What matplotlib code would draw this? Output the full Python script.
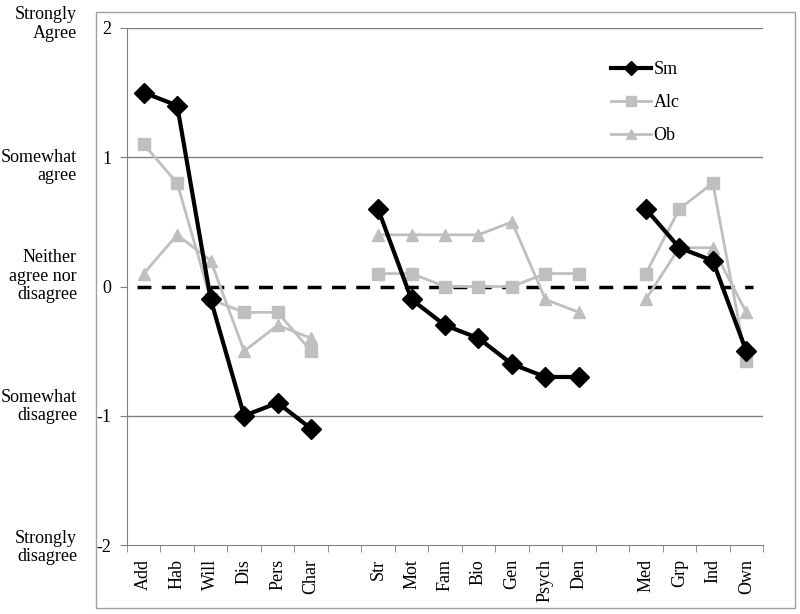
import matplotlib
matplotlib.use("Agg")
import matplotlib.pyplot as plt
from matplotlib.patches import Rectangle
import matplotlib.transforms as mtransforms
import numpy as np

plt.rcParams['font.family'] = ['Liberation Serif', 'DejaVu Serif']

categories = ["Add", "Hab", "Will", "Dis", "Pers", "Char", "",
              "Str", "Mot", "Fam", "Bio", "Gen", "Psych", "Den", "",
              "Med", "Grp", "Ind", "Own"]
nan = np.nan
sm = [1.5, 1.4, -0.1, -1.0, -0.9, -1.1, nan,
      0.6, -0.1, -0.3, -0.4, -0.6, -0.7, -0.7, nan,
      0.6, 0.3, 0.2, -0.5]
alc = [1.1, 0.8, -0.1, -0.2, -0.2, -0.5, nan,
       0.1, 0.1, 0.0, 0.0, 0.0, 0.1, 0.1, nan,
       0.1, 0.6, 0.8, -0.58]
ob = [0.1, 0.4, 0.2, -0.5, -0.3, -0.4, nan,
      0.4, 0.4, 0.4, 0.4, 0.5, -0.1, -0.2, nan,
      -0.1, 0.3, 0.3, -0.2]
yticks = [-2, -1, 0, 1, 2]
ylabels_text = ["Strongly\ndisagree", "Somewhat\ndisagree",
                "Neither\nagree nor\ndisagree", "Somewhat\nagree", "Strongly\nAgree"]
ylabel_pos = [-2.02, -0.93, 0.08, 0.93, 2.03]

fig = plt.figure(figsize=(8, 6.14), dpi=100)
ax = fig.add_axes([127/800, 1-545/614, (763-127)/800, (545-28)/614])

x = np.arange(len(categories))
gray = "#BFBFBF"

for yv in [1, -1, 2]:
    ax.axhline(yv, color="#808080", lw=1, zorder=1)
ax.plot([-0.2, len(categories)-0.8], [0, 0], color="black", lw=2.5,
        dashes=(4, 3), zorder=2)

ax.plot(x, ob, color=gray, lw=2, marker="^", ms=9, mfc=gray, mec=gray, label="Ob", zorder=3)
ax.plot(x, alc, color=gray, lw=2, marker="s", ms=8.5, mfc=gray, mec=gray, label="Alc", zorder=4)
ax.plot(x, sm, color="black", lw=3, marker="D", ms=10.5, mfc="black", mec="black", label="Sm", zorder=5)

ax.set_xlim(-0.5, len(categories)-0.5)
ax.set_ylim(-2, 2)
ax.set_yticks(yticks)
ax.set_yticklabels([str(v) for v in yticks], fontsize=13)
ax.set_xticks(x)
ax.set_xticklabels(categories, rotation=90, fontsize=13)
ax.tick_params(axis='x', length=0, pad=10)
ax.set_xticks(np.arange(-0.5, len(categories), 1), minor=True)
ax.tick_params(axis='x', which='minor', length=5, color="#808080", direction='out')
ax.tick_params(axis='y', length=5, color="#808080", pad=6)

for s in ["top", "right"]:
    ax.spines[s].set_visible(False)
ax.spines["left"].set_color("#808080")
ax.spines["bottom"].set_color("#808080")

trans = mtransforms.blended_transform_factory(fig.transFigure, ax.transData)
for lab, yp in zip(ylabels_text, ylabel_pos):
    ax.text(77/800, yp, lab, transform=trans, ha="right", va="center",
            fontsize=13, linespacing=1.1, clip_on=False)

handles, labels = ax.get_legend_handles_labels()
order = [2, 1, 0]
leg = ax.legend([handles[i] for i in order], [labels[i] for i in order],
                loc="upper left", bbox_to_anchor=(611/800, 1-61/614),
                bbox_transform=fig.transFigure, frameon=False, borderpad=0,
                borderaxespad=0, fontsize=13, handlelength=2.2,
                labelspacing=0.9, handletextpad=0.15)
for h in leg.legend_handles:
    h.set_markersize(7)

fig.add_artist(Rectangle((96/800, 1-608/614), (795-96)/800, (608-12)/614,
                         transform=fig.transFigure, fill=False, ec="#A0A0A0", lw=1))

fig.savefig("out.png", dpi=100)
